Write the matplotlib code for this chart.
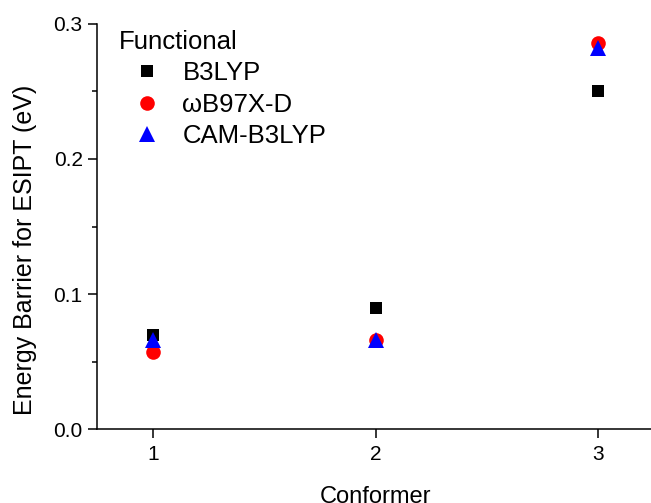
import matplotlib
matplotlib.use("Agg")
import matplotlib.pyplot as plt
from matplotlib.ticker import MultipleLocator, FormatStrFormatter

plt.rcParams['font.family'] = ['Liberation Sans', 'DejaVu Sans']

conformers = [1, 2, 3]
b3lyp = [0.070, 0.090, 0.250]
wb97xd = [0.057, 0.066, 0.286]
cam_b3lyp = [0.066, 0.066, 0.282]
series_names = ['B3LYP', 'ωB97X-D', 'CAM-B3LYP']

fig = plt.figure(figsize=(6.51, 5.03), dpi=100)
ax = fig.add_axes([0.1495, 0.1465, 0.8552, 0.8064])

ax.plot(conformers, b3lyp, linestyle='none', marker='s', ms=9, color='black', mew=0, label=series_names[0])
ax.plot(conformers, wb97xd, linestyle='none', marker='o', ms=10.5, color='red', mew=0, label=series_names[1])
ax.plot(conformers, cam_b3lyp, linestyle='none', marker='^', ms=12, color='blue', mew=0, label=series_names[2])

ax.set_xlim(0.75, 3.25)
ax.set_ylim(0.0, 0.3)
ax.set_xticks(conformers)
ax.yaxis.set_major_locator(MultipleLocator(0.1))
ax.yaxis.set_minor_locator(MultipleLocator(0.05))
ax.yaxis.set_major_formatter(FormatStrFormatter('%.1f'))

for s in ['top', 'right']:
    ax.spines[s].set_visible(False)
for s in ['left', 'bottom']:
    ax.spines[s].set_linewidth(1.1)

ax.tick_params(axis='both', which='major', direction='out', length=6.5, width=1.1, labelsize=15)
ax.tick_params(axis='y', which='minor', direction='out', length=3.5, width=1.1)
ax.tick_params(axis='x', which='major', pad=4.5)
ax.tick_params(axis='y', which='major', pad=4)

ax.set_xlabel('Conformer', fontsize=17, labelpad=16)
ax.set_ylabel('Energy Barrier for ESIPT (eV)', fontsize=18, labelpad=12)
ax.yaxis.label.set_y(0.442)

leg = ax.legend(title='Functional', loc='upper left', bbox_to_anchor=(0.02, 1.01),
                frameon=False, fontsize=18.5, title_fontsize=18.5, alignment='left',
                handletextpad=0.28, labelspacing=0.29, borderaxespad=0.0,
                handlelength=2.2, markerscale=1.0)

fig.savefig('out.png', dpi=100)
